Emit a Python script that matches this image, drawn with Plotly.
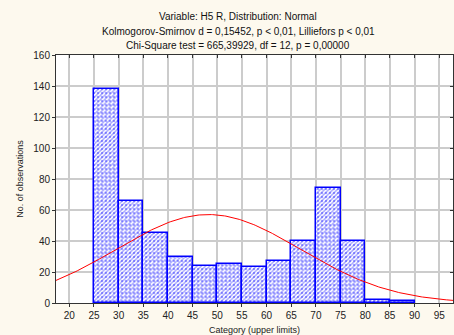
import numpy as np
import plotly.graph_objects as go

# Histogram data: bins given by upper limits
upper_limits = [30, 35, 40, 45, 50, 55, 60, 65, 70, 75, 80, 85, 90]
counts = [138, 66, 45, 30, 24, 25, 23, 27, 40, 74, 40, 2, 1]
bin_width = 5
x_ticks = [20, 25, 30, 35, 40, 45, 50, 55, 60, 65, 70, 75, 80, 85, 90, 95]
y_ticks = [0, 20, 40, 60, 80, 100, 120, 140, 160]

# Fitted normal distribution parameters (estimated from the chart)
fit_mean = 48.2
fit_sd = 18.7

title_lines = [
    "Variable: H5 R, Distribution: Normal",
    "Kolmogorov-Smirnov d = 0,15452, p < 0,01, Lilliefors p < 0,01",
    "Chi-Square test = 665,39929, df = 12, p = 0,00000",
]

centers = [u - bin_width / 2 for u in upper_limits]
n_total = sum(counts)
xs = np.linspace(17.3, 97.8, 300)
ys = n_total * bin_width / (fit_sd * np.sqrt(2 * np.pi)) * np.exp(-0.5 * ((xs - fit_mean) / fit_sd) ** 2)

fig = go.Figure()
fig.add_trace(go.Bar(
    x=centers, y=counts, width=bin_width,
    marker=dict(color="white",
                line=dict(color="rgba(0,0,0,0)", width=0),
                pattern=dict(shape="/", fgcolor="#4d4dff", bgcolor="#ffffff", size=3, solidity=0.5)),
    showlegend=False,
))
fig.add_trace(go.Bar(
    x=centers, y=counts, width=bin_width,
    marker=dict(color="rgba(0,0,0,0)",
                line=dict(color="#0000ff", width=1.5),
                pattern=dict(shape=".", fgcolor="#2020ff", bgcolor="rgba(0,0,0,0)", size=4, solidity=0.2)),
    showlegend=False, hoverinfo="skip",
))
fig.add_trace(go.Scatter(x=xs, y=ys, mode="lines", line=dict(color="#ff0000", width=1), showlegend=False))
# invisible trace for mirrored axes
fig.add_trace(go.Scatter(x=[50], y=[50], xaxis="x2", yaxis="y2", mode="markers",
                         marker=dict(opacity=0), showlegend=False, hoverinfo="skip"))

axis_font = dict(family="Liberation Sans, Arial, sans-serif", size=10, color="#222222")
fig.update_layout(
    width=454, height=335,
    margin=dict(l=56, r=1, t=55, b=32),
    paper_bgcolor="#fdf9ee",
    plot_bgcolor="#ffffff",
    bargap=0,
    barmode="overlay",
    font=dict(family="Liberation Sans, Arial, sans-serif", size=10, color="#222222"),
    xaxis=dict(range=[17.3, 97.8], tickvals=x_ticks, ticktext=[str(v) for v in x_ticks],
               showgrid=True, gridcolor="#cccccc", gridwidth=1.5,
               showline=True, linecolor="#333333", linewidth=1,
               ticks="outside", ticklen=3, tickcolor="#333333", tickfont=axis_font,
               zeroline=False,
               title=dict(text="Category (upper limits)", font=dict(size=9), standoff=6)),
    yaxis=dict(range=[0, 160], tickvals=y_ticks,
               showgrid=True, gridcolor="#cccccc", gridwidth=1.5,
               showline=True, linecolor="#333333", linewidth=1,
               ticks="outside", ticklen=3, tickcolor="#333333", tickfont=axis_font,
               zeroline=False,
               title=dict(text="No. of observations", font=dict(size=9), standoff=8)),
    xaxis2=dict(overlaying="x", side="top", range=[17.3, 97.8], tickvals=x_ticks,
                showticklabels=False, showgrid=False, zeroline=False,
                showline=True, linecolor="#333333", linewidth=1,
                ticks="inside", ticklen=3, tickcolor="#333333"),
    yaxis2=dict(overlaying="y", side="right", range=[0, 160], tickvals=y_ticks,
                showticklabels=False, showgrid=False, zeroline=False,
                showline=True, linecolor="#333333", linewidth=1,
                ticks="inside", ticklen=3, tickcolor="#333333"),
)

for i, line in enumerate(title_lines):
    fig.add_annotation(text=line, xref="paper", yref="paper",
                       x=(238 - 56) / 397, y=(303 - (16 + 15 * i)) / 248,
                       showarrow=False, xanchor="center", yanchor="middle",
                       font=dict(size=10, color="#111111"))

fig.write_html("out.html")
